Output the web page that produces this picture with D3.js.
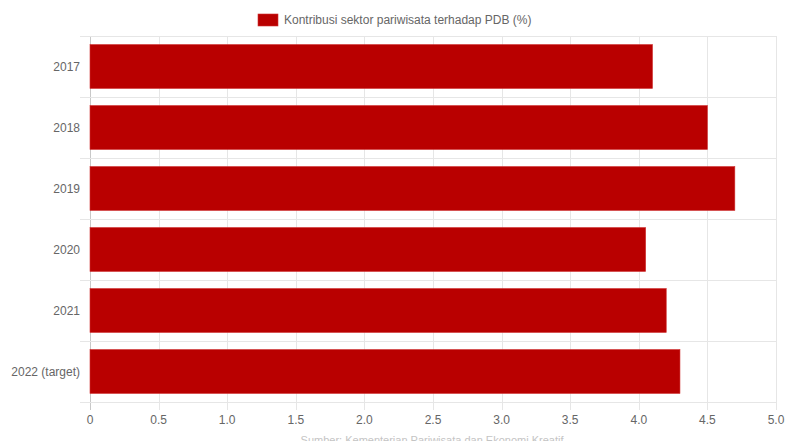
<!DOCTYPE html>
<html>
<head>
<meta charset="utf-8">
<script src="https://cdn.jsdelivr.net/npm/d3@7"></script>
<style>
  body { margin: 0; background: #fff; }
  svg { display: block; font-family: "Liberation Sans", Arial, sans-serif; }
</style>
</head>
<body>
<div id="chart"></div>
<script>
const categories = ["2017", "2018", "2019", "2020", "2021", "2022 (target)"];
const values = [4.1, 4.5, 4.7, 4.05, 4.2, 4.3];
const xTicks = [0, 0.5, 1, 1.5, 2, 2.5, 3, 3.5, 4, 4.5, 5];
const seriesName = "Kontribusi sektor pariwisata terhadap PDB (%)";
const sourceText = "Sumber: Kementerian Pariwisata dan Ekonomi Kreatif";

const W = 785, H = 441;
const m = {top: 36, right: 9, bottom: 39, left: 90};

const svg = d3.select("#chart").append("svg")
  .attr("width", W).attr("height", H);

const x = d3.scaleLinear().domain([0, 5]).range([m.left, W - m.right]);
const y = d3.scaleBand().domain(categories).range([m.top, H - m.bottom]);

// grid lines
const grid = svg.append("g");
grid.selectAll(".vg")
  .data(xTicks)
  .enter().append("line")
    .attr("x1", d => Math.round(x(d)) + 0.5)
    .attr("x2", d => Math.round(x(d)) + 0.5)
    .attr("y1", m.top)
    .attr("y2", H - m.bottom + 8)
    .style("stroke", (d, i) => i === 0 ? "#c8c8c8" : "#e6e6e6")
    .style("stroke-width", 1);

const hLines = categories.map(c => y(c)).concat([y.range()[1]]);
grid.selectAll(".hg")
  .data(hLines)
  .enter().append("line")
    .attr("x1", m.left - 10)
    .attr("x2", W - m.right)
    .attr("y1", d => Math.round(d) + 0.5)
    .attr("y2", d => Math.round(d) + 0.5)
    .style("stroke", "#e6e6e6")
    .style("stroke-width", 1);

// bars
const bw = y.bandwidth() * 0.72;
svg.append("g").selectAll("rect")
  .data(values)
  .enter().append("rect")
    .attr("x", x(0))
    .attr("y", (d, i) => y(categories[i]) + (y.bandwidth() - bw) / 2)
    .attr("width", d => x(d) - x(0))
    .attr("height", bw)
    .style("fill", "#b90000")
    .style("stroke", "#d03030")
    .style("stroke-width", 0.6);

// y labels
svg.append("g").selectAll("text")
  .data(categories)
  .enter().append("text")
    .attr("x", m.left - 10)
    .attr("y", d => y(d) + y.bandwidth() / 2)
    .attr("dy", "0.35em")
    .attr("text-anchor", "end")
    .style("font-size", "12px")
    .style("fill", "#666")
    .text(d => d);

// x labels
svg.append("g").selectAll("text")
  .data(xTicks)
  .enter().append("text")
    .attr("x", d => x(d))
    .attr("y", H - m.bottom + 22)
    .attr("text-anchor", "middle")
    .style("font-size", "12px")
    .style("fill", "#666")
    .text(d => d === 0 ? "0" : d.toFixed(1));

// legend
const lg = svg.append("g");
lg.append("rect")
  .attr("x", 258).attr("y", 14)
  .attr("width", 20).attr("height", 12)
  .style("fill", "#b90000")
  .style("stroke", "#d03030")
  .style("stroke-width", 0.6);
lg.append("text")
  .attr("x", 284).attr("y", 20)
  .attr("dy", "0.35em")
  .style("font-size", "12px")
  .style("fill", "#666")
  .text(seriesName);

// source (clipped at bottom)
svg.append("text")
  .attr("x", 432).attr("y", 444)
  .attr("text-anchor", "middle")
  .style("font-size", "11px")
  .style("fill", "#c4c4c4")
  .text(sourceText);
</script>
</body>
</html>
